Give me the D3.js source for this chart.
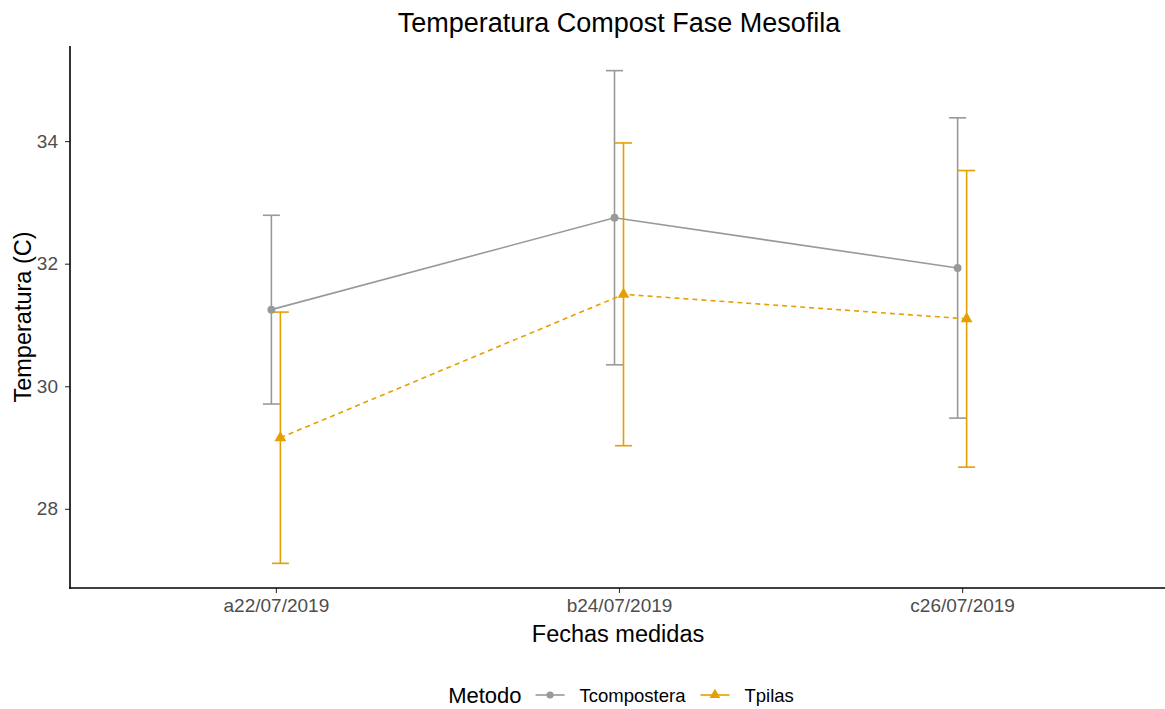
<!DOCTYPE html>
<html>
<head>
<meta charset="utf-8">
<script src="https://cdn.jsdelivr.net/npm/d3@7"></script>
<style>
  html, body { margin: 0; padding: 0; background: #fff; }
  svg { display: block; font-family: "Liberation Sans", Arial, sans-serif; }
</style>
</head>
<body>
<svg id="chart" width="1165" height="709"></svg>
<script>
// Measurement dates (x categories)
const fechas = ["a22/07/2019", "b24/07/2019", "c26/07/2019"];

// Series names
const metodos = ["Tcompostera", "Tpilas"];

// Mean temperature per date
const mediaTcompostera = [31.25, 32.75, 31.93];
const mediaTpilas = [29.16, 31.50, 31.10];

// Half-width of the error bars
const errorTcompostera = [1.54, 2.40, 2.45];
const errorTpilas = [2.05, 2.47, 2.42];

// Y axis tick values
const yTicks = [28, 30, 32, 34];

const colores = { Tcompostera: "#999999", Tpilas: "#E69F00" };
const dashes = { Tcompostera: null, Tpilas: "5,4" };

const series = metodos.map((m, i) => ({
  metodo: m,
  values: fechas.map((f, j) => ({
    fecha: f,
    media: i === 0 ? mediaTcompostera[j] : mediaTpilas[j],
    err: i === 0 ? errorTcompostera[j] : errorTpilas[j]
  }))
}));

const svg = d3.select("#chart");
const panel = { left: 70, right: 1168, top: 46, bottom: 588 };

const x = d3.scalePoint().domain(fechas).range([panel.left, panel.right]).padding(0.6);

const allLo = series.flatMap(s => s.values.map(v => v.media - v.err));
const allHi = series.flatMap(s => s.values.map(v => v.media + v.err));
const lo = d3.min(allLo), hi = d3.max(allHi), pad = (hi - lo) * 0.05;
const y = d3.scaleLinear().domain([lo - pad, hi + pad]).range([panel.bottom, panel.top]);

// Side-by-side offset of the two series at each date
const dodge = d3.scalePoint().domain(metodos).range([-4.5, 4.5]);

const g = svg.append("g");

// Error bars
series.forEach(s => {
  const eb = g.append("g").attr("stroke", colores[s.metodo]).attr("stroke-width", 1.6).attr("fill", "none");
  s.values.forEach(v => {
    const cx = x(v.fecha) + dodge(s.metodo);
    eb.append("line").attr("x1", cx).attr("x2", cx).attr("y1", y(v.media - v.err)).attr("y2", y(v.media + v.err));
    [v.media - v.err, v.media + v.err].forEach(val => {
      eb.append("line").attr("x1", cx - 8.5).attr("x2", cx + 8.5).attr("y1", y(val)).attr("y2", y(val));
    });
  });
});

// Lines
const line = d3.line().x(d => d.x).y(d => y(d.media));
series.forEach(s => {
  const pts = s.values.map(v => ({ x: x(v.fecha) + dodge(s.metodo), media: v.media }));
  g.append("path").attr("d", line(pts)).attr("fill", "none")
    .attr("stroke", colores[s.metodo]).attr("stroke-width", 1.6)
    .attr("stroke-dasharray", dashes[s.metodo]);
});

// Points
const simbolos = { Tcompostera: d3.symbolCircle, Tpilas: d3.symbolTriangle };
series.forEach(s => {
  s.values.forEach(v => {
    g.append("path")
      .attr("d", d3.symbol().type(simbolos[s.metodo]).size(s.metodo === "Tpilas" ? 60 : 48)())
      .attr("transform", `translate(${x(v.fecha) + dodge(s.metodo)},${y(v.media)})`)
      .attr("fill", colores[s.metodo]);
  });
});

// Axes
const xAxis = svg.append("g").attr("transform", `translate(0,${panel.bottom})`)
  .call(d3.axisBottom(x).tickSize(5).tickPadding(6));
const yAxis = svg.append("g").attr("transform", `translate(${panel.left},0)`)
  .call(d3.axisLeft(y).tickValues(yTicks).tickSize(5).tickPadding(7));

[xAxis, yAxis].forEach(ax => {
  ax.select(".domain").remove();
  ax.selectAll(".tick line").attr("stroke", "#333333").attr("stroke-width", 1.1);
  ax.selectAll(".tick text").attr("fill", "#4d4d4d").style("font-size", "19px")
    .style("font-family", "'Liberation Sans', Arial, sans-serif");
});

// Axis lines
svg.append("line").attr("x1", panel.left).attr("x2", panel.left).attr("y1", panel.top).attr("y2", panel.bottom + 0.8)
  .attr("stroke", "#000").attr("stroke-width", 1.6);
svg.append("line").attr("x1", panel.left - 0.8).attr("x2", 1165).attr("y1", panel.bottom).attr("y2", panel.bottom)
  .attr("stroke", "#000").attr("stroke-width", 1.6);

// Titles
svg.append("text").attr("x", 619).attr("y", 32).attr("text-anchor", "middle")
  .style("font-size", "27px").attr("fill", "#000").text("Temperatura Compost Fase Mesofila");
svg.append("text").attr("x", 618).attr("y", 642).attr("text-anchor", "middle")
  .style("font-size", "23.5px").attr("fill", "#000").text("Fechas medidas");
svg.append("text").attr("transform", `translate(30.5,${(panel.top + panel.bottom) / 2}) rotate(-90)`)
  .attr("text-anchor", "middle").style("font-size", "23.5px").attr("fill", "#000").text("Temperatura (C)");

// Legend
const leg = svg.append("g");
const ly = 695;
const tTitle = leg.append("text").attr("x", 0).attr("y", ly + 8).style("font-size", "22px").text("Metodo");
let cx = tTitle.node().getComputedTextLength() + 14;
metodos.forEach(m => {
  leg.append("line").attr("x1", cx).attr("x2", cx + 29).attr("y1", ly).attr("y2", ly)
    .attr("stroke", colores[m]).attr("stroke-width", 1.6);
  leg.append("path").attr("d", d3.symbol().type(simbolos[m]).size(m === "Tpilas" ? 50 : 40)())
    .attr("transform", `translate(${cx + 14.5},${ly})`).attr("fill", colores[m]);
  const t = leg.append("text").attr("x", cx + 44).attr("y", ly + 6.5).style("font-size", "18.5px").attr("fill", "#000").text(m);
  cx += 44 + t.node().getComputedTextLength() + 15;
});
const lw = cx - 15;
leg.attr("transform", `translate(${621 - lw / 2},0)`);
</script>
</body>
</html>
